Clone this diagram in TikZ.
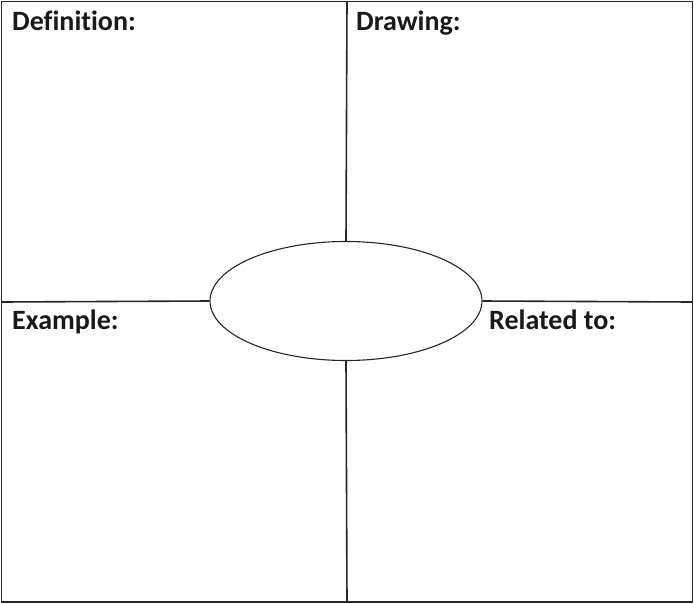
\documentclass[tikz,border=0pt]{standalone}
\usepackage{fontspec}
\setmainfont[Ligatures=CommonOff]{Carlito}
\usetikzlibrary{shapes.geometric}
\begin{document}
\begin{tikzpicture}[x=1pt,y=-1pt,
  frame/.style={line width=1.6pt,draw=black!85},
  lbl/.style={anchor=base west,inner sep=0pt,font=\fontsize{28}{32}\selectfont\bfseries,text=black!90},
  hub/.style={ellipse,draw=black!85,line width=1.1pt,minimum width=272pt,minimum height=119pt,inner sep=0pt}]
\useasboundingbox (0,0) rectangle (694,603);
\draw[frame] (1.5,1.5) rectangle (692.5,602);
\node[hub] (e) at (346,301) {};
\coordinate (t) at (347,1.5);
\coordinate (b) at (347,602);
\coordinate (l) at (1.5,302);
\coordinate (r) at (692.5,302);
\draw[frame] (t) -- (e.north);
\draw[frame] (e.south) -- (b);
\draw[frame] (l) -- (e.west);
\draw[frame] (e.east) -- (r);
\node[lbl] (def) at (12,30) {Definition:};
\node[lbl] (drw) at (356,30) {Drawing:};
\node[lbl] (ex) at (12,329) {Example:};
\node[lbl] (rel) at (489,329) {Related to:};
\end{tikzpicture}
\end{document}
